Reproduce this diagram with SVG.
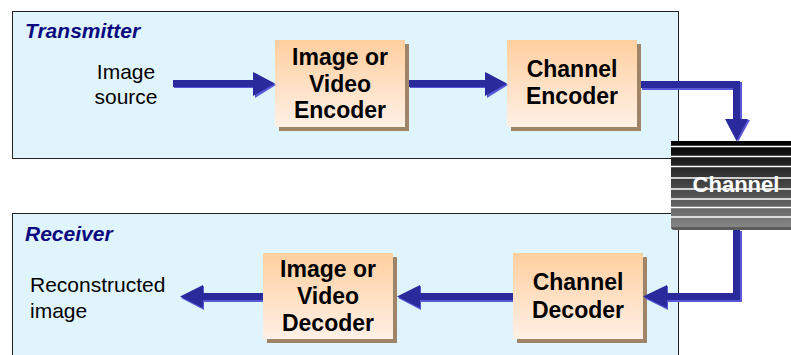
<svg xmlns="http://www.w3.org/2000/svg" width="791" height="355" viewBox="0 0 791 355">
  <defs>
    <linearGradient id="boxFill" x1="0" y1="0" x2="0" y2="1">
      <stop offset="0" stop-color="#ffcf9f"/>
      <stop offset="1" stop-color="#fff0e6"/>
    </linearGradient>
    <linearGradient id="chanFill" x1="0" y1="0" x2="0" y2="1">
      <stop offset="0" stop-color="#000000"/>
      <stop offset="1" stop-color="#858585"/>
    </linearGradient>
    <style>
      .panel { fill: #e0f4fe; stroke: #222; stroke-width: 1; }
      .panelTitle { font-family: "Liberation Sans", Arial, sans-serif; font-size: 21px; font-weight: bold; font-style: italic; fill: #0a0a80; }
      .shadow { fill: #a08468; }
      .box { fill: url(#boxFill); }
      .boxText { font-family: "Liberation Sans", Arial, sans-serif; font-size: 23px; font-weight: bold; fill: #000; text-anchor: middle; }
      .plain { font-family: "Liberation Sans", Arial, sans-serif; font-size: 21px; fill: #000; }
      .arrow { fill: #2a2a9c; }
      .arrowEdge { fill: #5a5ad8; }
      .stripe { stroke: #fff; stroke-width: 1.5; }
      .chanText { font-family: "Liberation Sans", Arial, sans-serif; font-size: 22px; font-weight: bold; fill: #fff; text-anchor: middle; }
    </style>
  </defs>

  <!-- transmitter panel -->
  <g id="transmitter">
    <rect class="panel" x="12.5" y="11.5" width="666" height="147"/>
    <text class="panelTitle" x="25" y="38">Transmitter</text>
  </g>

  <!-- receiver panel -->
  <g id="receiver">
    <rect class="panel" x="12.5" y="213.5" width="666" height="160"/>
    <text class="panelTitle" x="25" y="241">Receiver</text>
  </g>

  <g id="image-source">
    <text class="plain" x="126" y="79" text-anchor="middle">Image</text>
    <text class="plain" x="126" y="104" text-anchor="middle">source</text>
  </g>

  <g id="image-video-encoder">
    <rect class="shadow" x="279" y="44" width="130" height="87"/>
    <rect class="box" x="275" y="40" width="130" height="87"/>
    <text class="boxText" x="340" y="65">Image or</text>
    <text class="boxText" x="340" y="92">Video</text>
    <text class="boxText" x="340" y="118">Encoder</text>
  </g>

  <g id="channel-encoder">
    <rect class="shadow" x="511" y="44" width="130" height="87"/>
    <rect class="box" x="507" y="40" width="130" height="87"/>
    <text class="boxText" x="572" y="77">Channel</text>
    <text class="boxText" x="572" y="104">Encoder</text>
  </g>

  <g id="channel-decoder">
    <rect class="shadow" x="517" y="257" width="130" height="86"/>
    <rect class="box" x="513" y="253" width="130" height="86"/>
    <text class="boxText" x="578" y="290">Channel</text>
    <text class="boxText" x="578" y="318">Decoder</text>
  </g>

  <g id="image-video-decoder">
    <rect class="shadow" x="267" y="257" width="130" height="86"/>
    <rect class="box" x="263" y="253" width="130" height="86"/>
    <text class="boxText" x="328" y="277">Image or</text>
    <text class="boxText" x="328" y="304">Video</text>
    <text class="boxText" x="328" y="331">Decoder</text>
  </g>

  <g id="reconstructed-image">
    <text class="plain" x="30" y="292">Reconstructed</text>
    <text class="plain" x="30" y="318">image</text>
  </g>

  <!-- channel block -->
  <g id="channel">
    <rect x="671" y="141" width="125" height="89" rx="3" fill="#5c5c5c"/>
    <rect x="671" y="141" width="125" height="86" fill="url(#chanFill)"/>
    <line class="stripe" x1="671" y1="146.5" x2="791" y2="146.5"/>
    <line class="stripe" x1="671" y1="156.5" x2="791" y2="156.5"/>
    <line class="stripe" x1="671" y1="166.5" x2="791" y2="166.5"/>
    <line class="stripe" x1="671" y1="178" x2="791" y2="178"/>
    <line class="stripe" x1="671" y1="189" x2="791" y2="189"/>
    <line class="stripe" x1="671" y1="199" x2="791" y2="199"/>
    <line class="stripe" x1="671" y1="207.5" x2="791" y2="207.5"/>
    <line class="stripe" x1="671" y1="217" x2="791" y2="217"/>
    <text class="chanText" x="736" y="192">Channel</text>
  </g>

  <!-- connectors -->
  <g id="connectors">
    <!-- image source to encoder -->
    <path class="arrowEdge" d="M174 81 H255 V73 L276 85 L255 98 V88 H174 Z"/>
    <path class="arrow" d="M173 80 H253 V72 L275 83.5 L253 96 V87 H173 Z"/>
    <!-- encoder to channel encoder -->
    <path class="arrowEdge" d="M410 81 H487 V73 L508 85 L487 98 V88 H410 Z"/>
    <path class="arrow" d="M409 80 H485 V72 L507 83.5 L485 96 V87 H409 Z"/>
    <!-- channel encoder down into channel -->
    <path class="arrowEdge" d="M642 82 H742 V120 H750 L738 142 L727 120 H735 V90 H642 Z"/>
    <path class="arrow" d="M641 81 H740 V119 H748 L736.5 141 L725 119 H733 V88 H641 Z"/>
    <!-- channel down to channel decoder -->
    <path class="arrowEdge" d="M734 231 H742 V302 H668 V310 L644 298 L668 286 V294 H734 Z"/>
    <path class="arrow" d="M733 230 H740 V300 H667 V308 L643 296.5 L667 285 V293 H733 Z"/>
    <!-- channel decoder to image decoder -->
    <path class="arrowEdge" d="M513 294 H421 V286 L398 298 L421 310 V302 H513 Z"/>
    <path class="arrow" d="M513 293 H420 V285 L397 296.5 L420 308 V300 H513 Z"/>
    <!-- image decoder to reconstructed image -->
    <path class="arrowEdge" d="M263 294 H204 V286 L181 298 L204 310 V302 H263 Z"/>
    <path class="arrow" d="M263 293 H203 V285 L180 296.5 L203 308 V300 H263 Z"/>
  </g>
</svg>
